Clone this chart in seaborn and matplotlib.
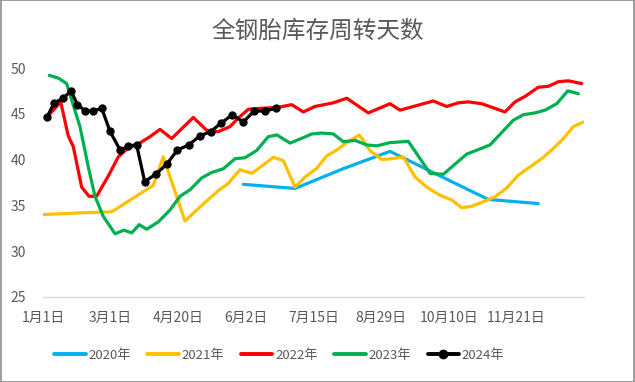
import matplotlib
matplotlib.use("Agg")
import matplotlib.pyplot as plt
from matplotlib.lines import Line2D
from matplotlib.patches import Rectangle
import seaborn as sns
import pandas as pd

# ---------------- data (x = position along the category axis) ----------------
tick_pos = [0, 6, 12, 18, 24, 30, 36, 42]
tick_labels = ["1月1日", "3月1日", "4月20日", "6月2日", "7月15日", "8月29日", "10月10日", "11月21日"]
y_ticks = [25, 30, 35, 40, 45, 50]

x2020 = [17.77, 22.36, 26.62, 30.79, 35.67, 39.51, 43.95]
v2020 = [37.3, 36.85, 39.0, 40.9, 37.95, 35.65, 35.2]

x2021 = [0.0, 3.58, 6.10, 9.79, 10.67, 12.60, 14.08, 15.55, 16.44, 17.48, 18.52, 19.41,
         20.43, 21.32, 22.36, 23.25, 24.29, 25.17, 26.06, 26.95, 28.07, 29.01, 30.05,
         30.94, 31.97, 33.01, 34.05, 35.23, 36.26, 37.15, 38.04, 39.07, 40.11, 41.14,
         42.17, 43.21, 44.25, 45.14, 46.17, 47.05, 47.94]
v2021 = [34.0, 34.2, 34.3, 37.2, 40.3, 33.3, 35.0, 36.6, 37.4, 38.9, 38.5, 39.3,
         40.25, 39.9, 37.0, 38.1, 39.05, 40.4, 41.05, 41.85, 42.7, 41.0, 40.0,
         40.1, 40.3, 38.1, 37.0, 36.1, 35.6, 34.75, 34.9, 35.4, 35.95, 36.9,
         38.3, 39.2, 40.1, 41.05, 42.3, 43.6, 44.1]

x2022 = [0.33, 1.57, 2.24, 2.69, 3.43, 4.08, 4.76, 5.79, 6.68, 7.57, 8.31, 9.49, 10.38,
         11.42, 12.16, 13.34, 14.52, 15.55, 16.59, 17.30, 18.22, 19.41, 20.85, 22.07,
         23.10, 24.13, 25.76, 26.95, 28.86, 30.79, 31.68, 32.86, 34.63, 35.82, 36.85,
         37.74, 38.93, 40.99, 41.88, 42.77, 43.95, 44.84, 45.72, 46.61, 47.80]
v2022 = [44.6, 46.3, 42.6, 41.4, 37.0, 36.0, 36.0, 38.2, 40.3, 41.3, 41.6, 42.5, 43.3,
         42.3, 43.2, 44.6, 43.2, 43.05, 43.6, 44.5, 45.5, 45.6, 45.7, 46.0,
         45.2, 45.8, 46.2, 46.7, 45.1, 46.1, 45.4, 45.8, 46.4, 45.8, 46.2,
         46.3, 46.1, 45.2, 46.3, 46.9, 47.9, 48.0, 48.5, 48.6, 48.3]

x2023 = [0.56, 1.36, 2.10, 2.55, 3.28, 4.02, 4.61, 5.35, 6.39, 7.19, 7.87, 8.54, 9.20,
         10.23, 11.27, 12.16, 13.04, 14.08, 14.97, 16.00, 17.04, 17.92, 18.96, 19.99,
         20.74, 21.92, 23.10, 23.84, 24.73, 25.76, 26.65, 27.68, 28.72, 29.61, 30.79,
         32.41, 34.34, 35.52, 37.59, 39.66, 41.73, 42.62, 43.66, 44.54, 45.58, 46.56, 47.50]
v2023 = [49.2, 48.9, 48.3, 46.5, 43.6, 39.2, 36.0, 33.8, 31.9, 32.3, 32.0, 32.9, 32.4,
         33.2, 34.5, 36.0, 36.7, 38.0, 38.6, 39.0, 40.1, 40.2, 41.0, 42.5,
         42.7, 41.8, 42.4, 42.8, 42.9, 42.8, 41.95, 42.1, 41.6, 41.5, 41.85,
         42.0, 38.5, 38.4, 40.6, 41.6, 44.3, 44.9, 45.1, 45.4, 46.1, 47.5, 47.2]

x2024 = [0.33, 1.00, 1.80, 2.48, 3.06, 3.77, 4.46, 5.21, 5.94, 6.86, 7.57, 8.31, 9.02,
         10.00, 10.98, 11.93, 12.93, 13.93, 14.88, 15.77, 16.80, 17.77, 18.72, 19.70, 20.67]
v2024 = [44.6, 46.2, 46.7, 47.5, 46.0, 45.3, 45.3, 45.6, 43.1, 41.0, 41.5, 41.6, 37.6,
         38.4, 39.5, 41.05, 41.6, 42.6, 43.05, 43.96, 44.9, 44.1, 45.3, 45.3, 45.6]

series_names = ["2020年", "2021年", "2022年", "2023年", "2024年"]
series_x = [x2020, x2021, x2022, x2023, x2024]
series_v = [v2020, v2021, v2022, v2023, v2024]
colors = ["#00B0F0", "#FFC000", "#FF0000", "#00B050", "#000000"]

title = "全钢胎库存周转天数"

# ---------------- style ----------------
sns.set_style("white")
plt.rcParams["font.family"] = ["Noto Sans CJK SC", "DejaVu Sans"]
text_color = "#595959"

fig = plt.figure(figsize=(6.35, 3.82), dpi=100)
ax = fig.add_axes([43 / 635, 1 - 297 / 382, 541 / 635, 229 / 382])

for name, xs, vs, c in zip(series_names, series_x, series_v, colors):
    df = pd.DataFrame({"x": xs, "v": vs})
    kw = dict(marker="o", markersize=6, markeredgewidth=0) if name == "2024年" else {}
    sns.lineplot(data=df, x="x", y="v", ax=ax, color=c, linewidth=2.3,
                 sort=False, estimator=None, solid_joinstyle="round",
                 solid_capstyle="round", **kw)

ax.set_xlim(0, 48)
ax.set_ylim(25, 50)
ax.set_xticks(tick_pos)
ax.set_xticklabels(tick_labels)
ax.set_yticks(y_ticks)
ax.set_xlabel("")
ax.set_ylabel("")
ax.tick_params(axis="both", length=0, labelsize=10, colors=text_color)
ax.tick_params(axis="y", pad=12)
ax.tick_params(axis="x", pad=10)
for s in ["top", "right", "left"]:
    ax.spines[s].set_visible(False)
ax.spines["bottom"].set_color("#D9D9D9")
ax.spines["bottom"].set_linewidth(1.0)
ax.set_facecolor("white")
ax.patch.set_alpha(0)

fig.text(0.5, 1 - 31 / 382, title, ha="center", va="center",
         fontsize=17, color=text_color)

handles = []
for name, c in zip(series_names, colors):
    if name == "2024年":
        h = Line2D([], [], color=c, lw=2.8, marker="o", markersize=6, solid_capstyle="round")
    else:
        h = Line2D([], [], color=c, lw=2.8, solid_capstyle="round")
    handles.append(h)
leg = fig.legend(handles, series_names, loc="center left",
                 bbox_to_anchor=(54 / 635, 1 - 355.5 / 382), ncol=5, frameon=False,
                 fontsize=9.5, handlelength=2.4, handletextpad=0.2, columnspacing=1.25,
                 borderpad=0, borderaxespad=0)
for t in leg.get_texts():
    t.set_color(text_color)

fig.patches.append(Rectangle((0.0008, 0.0013), 0.9984, 0.9974, transform=fig.transFigure,
                             fill=False, edgecolor="#8C8C8C", linewidth=1.2))

fig.savefig("out.png", dpi=100, facecolor="white")
